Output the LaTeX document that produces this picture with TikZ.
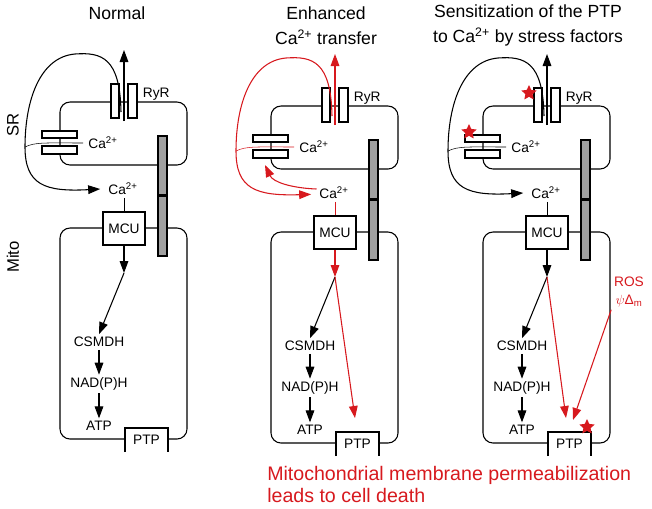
\documentclass[tikz,border=0pt]{standalone}
\usepackage{fontspec}
\setmainfont{Liberation Sans}
\usetikzlibrary{arrows.meta,shapes.geometric}
\definecolor{alertred}{RGB}{215,25,30}
\definecolor{tethergray}{RGB}{160,160,160}

\begin{document}
\begin{tikzpicture}[x=0.75pt, y=-0.75pt,
	membrane/.style={line width=0.8pt, rounded corners=7.5pt},
	channel/.style={line width=1.6pt, fill=white},
	tether/.style={line width=1.5pt, fill=tethergray},
	pore/.style={line width=1.6pt},
	flow/.style={line width=0.8pt, -{Triangle[length=9pt, width=6.5pt]}},
	lbl/.style={font=\fontsize{10.3}{12}\selectfont, inner sep=2pt},
	title/.style={font=\fontsize{13.2}{18.75}\selectfont, align=center},
	stress/.style={star, star points=5, star point ratio=2.1, fill=alertred, minimum size=12pt, inner sep=0pt},
	mcubox/.style={lbl, draw, line width=1.6pt, fill=white, minimum width=32pt, minimum height=25pt}]
	\useasboundingbox (0,0) rectangle (652,508);

	% Titulos
		\node[title] (tnormal) at (117,13) {Normal};
		\node[title] (tenhanced) at (326,25.5) {Enhanced\\Ca\textsuperscript{2+} transfer};
		\node[title] (tsens) at (528,25.5) {Sensitization of the PTP\\to Ca\textsuperscript{2+} by stress factors};
		\node[title, rotate=90, font=\fontsize{12.5}{15}\selectfont] (lsr) at (13,125) {SR};
		\node[title, rotate=90, font=\fontsize{12.5}{15}\selectfont] (lmito) at (13,257) {Mito};

	% Celula (igual en los tres paneles)
	\foreach \p/\dx/\dy in {1/0/0, 2/211/4, 3/423/4}{
		\begin{scope}[shift={(\dx,\dy)}]
			% SR y mitocondria
				\draw[membrane] (60,102) rectangle (187,165);
				\draw[membrane] (60,228) rectangle (187,439);
			% RyR
				\draw[channel] (111,84) rectangle (119,118);
				\draw[channel] (128,84) rectangle (137,118);
				\node[lbl, anchor=west] (ryr\p) at (140,94) {RyR};
			% SERCA
				\draw[channel] (42,131) rectangle (77,138);
				\draw[channel] (42,146) rectangle (77,154);
				\node[lbl, anchor=west] (caer\p) at (85.5,143) {Ca\textsuperscript{2+}};
			% Union SR-mito
				\draw[tether] (158,136) rectangle (167,195);
				\draw[tether] (158,195) rectangle (167,256);
				\fill (158,193.5) rectangle (167,196.5);
			% MCU
				\node[lbl, anchor=west] (camito\p) at (105.5,189) {Ca\textsuperscript{2+}};
				\node[mcubox] (mcu\p) at (124,228.5) {MCU};
			% PTP
				\fill[white] (125,428) rectangle (168,452);
				\draw[pore] (125,452) -- (125,428) -- (168,428) -- (168,452);
				\node[lbl] (ptp\p) at (146.5,440) {PTP};
			% Metabolismo
				\node[lbl] (csmdh\p) at (99,342) {CSMDH};
				\node[lbl] (nadph\p) at (99,384) {NAD(P)H};
				\node[lbl] (atp\p) at (99,426) {ATP};
				\draw[flow] (csmdh\p) -- (nadph\p);
				\draw[flow] (nadph\p) -- (atp\p);
			% Puntos
				\coordinate (ryrin\p) at (124,121);
				\coordinate (ryrout\p) at (124,50);
				\coordinate (loopin\p) at (121,112);
				\coordinate (loopfar\p) at (25,147);
				\coordinate (serca\p) at (83,143);
				\coordinate (junc\p) at (124,273);
		\end{scope}
	}

	% Normal
	\begin{scope}
		\draw[flow] (ryrin1) -- (ryrout1);
		\draw[flow] (loopin1) .. controls (120,58) and (102,52) .. (75,54) .. controls (40,57) and (25,100) .. (loopfar1) .. controls (25,185) and (45,192) .. ([xshift=-4pt]camito1.west);
		\draw (loopfar1) .. controls (35,142) and (45,143) .. (serca1);
		\draw (camito1.south -| mcu1.north) -- (mcu1.north);
		\draw[flow] (mcu1.south) -- (junc1);
		\draw[flow] (junc1) -- (csmdh1.north);
	\end{scope}

	% Transferencia aumentada
	\begin{scope}[shift={(211,4)}, alertred]
		\draw[flow] (ryrin2) -- (ryrout2);
		\draw[flow] (loopin2) .. controls (120,58) and (102,52) .. (75,54) .. controls (40,57) and (25,100) .. (loopfar2) .. controls (25,185) and (45,192) .. ([xshift=-4pt,yshift=-1pt]camito2.west);
		\draw (loopfar2) .. controls (35,142) and (45,143) .. (serca2);
		\coordinate (sercabot2) at (54,161);
		\draw[flow] ([yshift=3pt]camito2.west) .. controls (80,184) and (62,178) .. (sercabot2);
		\draw (camito2.south -| mcu2.north) -- (mcu2.north);
		\draw[flow] (mcu2.south) -- (junc2);
		\draw[flow, black] (junc2) -- (csmdh2.north);
		\coordinate (ptphit2) at (144,414);
		\draw[flow] (junc2) -- (ptphit2);
	\end{scope}

	% Sensibilizacion del PTP
	\begin{scope}[shift={(423,4)}]
		\draw[flow] (ryrin3) -- (ryrout3);
		\draw[flow] (loopin3) .. controls (120,58) and (102,52) .. (75,54) .. controls (40,57) and (25,100) .. (loopfar3) .. controls (25,185) and (45,192) .. ([xshift=-4pt]camito3.west);
		\draw (loopfar3) .. controls (35,142) and (45,143) .. (serca3);
		\draw (camito3.south -| mcu3.north) -- (mcu3.north);
		\draw[flow] (mcu3.south) -- (junc3);
		\draw[flow] (junc3) -- (csmdh3.north);
		\node[lbl, text=alertred, align=center] (ros) at (206,288) {ROS\\[1pt]$\psi$Δ\textsubscript{m}};
		\coordinate (ptphit3) at (143,414);
		\coordinate (roshit3) at (150,416);
		\draw[flow, alertred] (junc3) -- (ptphit3);
		\draw[flow, alertred] (ros.south west) -- (roshit3);
		% Estrellas
		\node[stress] (starryr) at (106,89) {};
		\node[stress] (starserca) at (46,128) {};
		\node[stress] (starptp) at (164,423) {};
	\end{scope}

	% Conclusion
		\node[anchor=west, align=left, inner sep=0pt, text=alertred, font=\fontsize{14.7}{16.5}\selectfont] (death) at (267,484) {Mitochondrial membrane permeabilization\\leads to cell death};
\end{tikzpicture}
\end{document}
